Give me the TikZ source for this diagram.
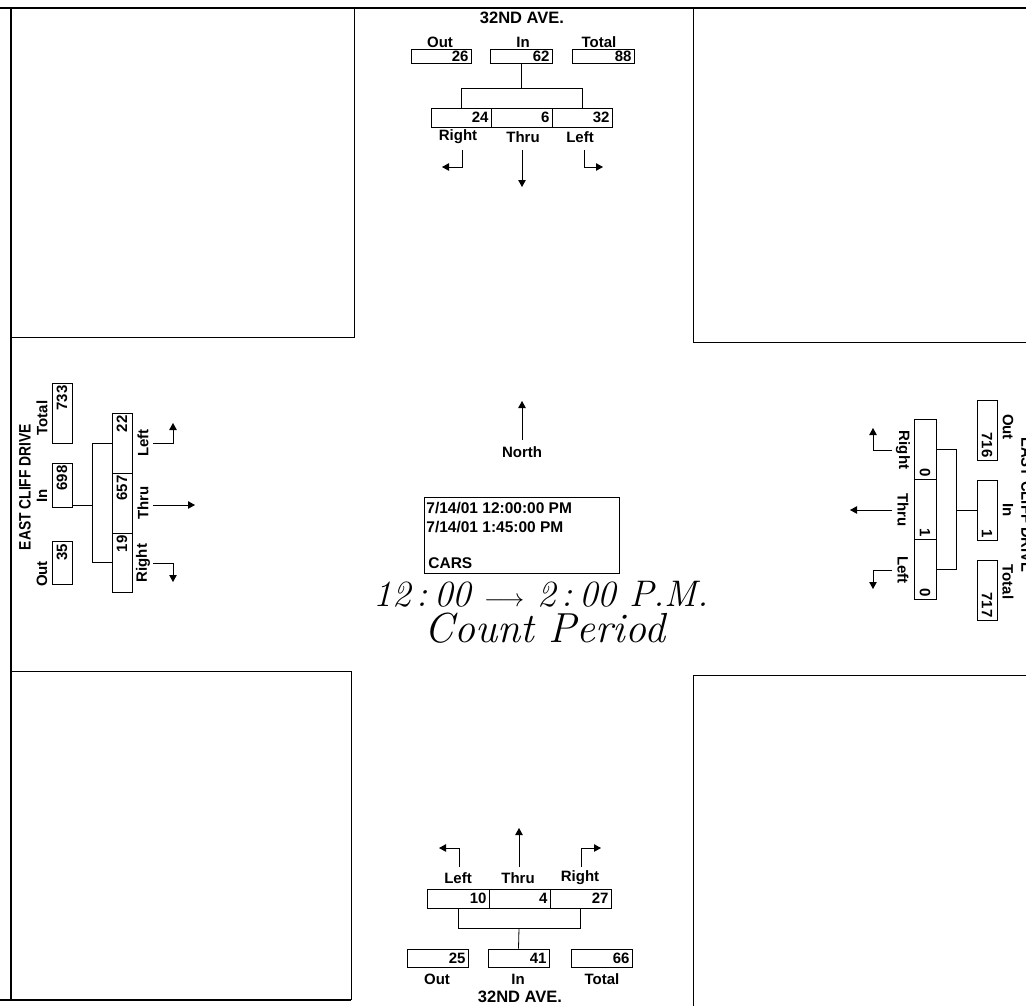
\documentclass[tikz,border=0pt]{standalone}
\usepackage{fontspec}
\setmainfont{Liberation Sans}
\newfontfamily\handfont{Latin Modern Roman}
\usetikzlibrary{arrows.meta}
\begin{document}
\begin{tikzpicture}[x=1pt,y=-1pt,line width=0.8pt,
  txt/.style={font=\bfseries\fontsize{15}{17}\selectfont, inner sep=0pt},
  street/.style={font=\bfseries\fontsize{16.5}{18}\selectfont, inner sep=0pt},
  infotxt/.style={font=\bfseries\fontsize{15.5}{17}\selectfont, inner sep=0pt},
  nb/.style={draw, align=right, inner xsep=2.5pt, inner ysep=0pt, text width=#1, font=\bfseries\fontsize{15}{17}\selectfont},
  arr/.style={-{Triangle[length=7pt,width=7.5pt]}},
  hand/.style={font=\handfont\itshape\fontsize{37}{40}\selectfont, inner sep=0pt},
  frame/.style={line width=1pt}]
\useasboundingbox (0,0) rectangle (1026,1005);
\clip (0,0) rectangle (1026,1005);
% ---------- frame ----------
\draw[line width=1.6pt] (0,8) -- (1026,8);
\draw[line width=2pt] (11,8) -- (11,1001);
\draw[frame] (354,8) -- (354,337) -- (11,337);
\draw[frame] (693,8) -- (693,342) -- (1030,342);
\draw[frame] (11,671) -- (351,671) -- (351,1000);
\draw[line width=1.6pt] (0,1000) -- (351,1000);
\draw[frame] (693,1010) -- (693,675) -- (1030,675);
% ---------- top approach ----------
\node[street] (tname) at (522,18) {32ND AVE.};
\node[txt] (toutl) at (440,42) {Out};
\node[txt] (tinl) at (523,42) {In};
\node[txt] (ttotl) at (599,42) {Total};
\node[nb=55pt, minimum height=14pt] (tout) at (441,56.5) {26};
\node[nb=57pt, minimum height=14pt] (tin) at (521,56.5) {62};
\node[nb=57pt, minimum height=14pt] (ttot) at (603,56.5) {88};
\node[nb=55pt, minimum height=19pt] (tR) at (461,117.5) {24};
\node[nb=56pt, minimum height=19pt] (tT) at (521.5,117.5) {6};
\node[nb=55pt, minimum height=19pt] (tL) at (582,117.5) {32};
\coordinate (tj) at (521,88);
\draw (tin.south) -- (tj);
\draw (tR.north) -- (tR.north |- tj) -- (tL.north |- tj) -- (tL.north);
\node[txt] (tRl) at (458,137) {Right};
\node[txt] (tTl) at (523,137) {Thru};
\node[txt] (tLl) at (580,137) {Left};
\coordinate (tRe) at (442,167);
\coordinate (tTe) at (522,187);
\coordinate (tLe) at (603,167);
\draw[arr] (462,150) |- (tRe);
\draw[arr] (522,150) -- (tTe);
\draw[arr] (584,150) |- (tLe);
% ---------- bottom approach ----------
\coordinate (bLe) at (439,848);
\coordinate (bTe) at (519,828);
\coordinate (bRe) at (601,848);
\draw[arr] (459,867) |- (bLe);
\draw[arr] (519,867) -- (bTe);
\draw[arr] (581,867) |- (bRe);
\node[txt] (bLl) at (458,878) {Left};
\node[txt] (bTl) at (518,878) {Thru};
\node[txt] (bRl) at (580,878) {Right};
\node[nb=57pt, minimum height=19pt] (bL) at (458,898.5) {10};
\node[nb=56pt, minimum height=19pt] (bT) at (519.5,898.5) {4};
\node[nb=56pt, minimum height=19pt] (bR) at (580.5,898.5) {27};
\coordinate (bj) at (519,928);
\draw (bL.south) -- (bL.south |- bj) -- (bR.south |- bj) -- (bR.south);
\node[nb=56pt, minimum height=18pt] (bout) at (437.5,958) {25};
\node[nb=56pt, minimum height=18pt] (bin) at (518.5,958) {41};
\node[nb=56pt, minimum height=18pt] (btot) at (601.5,958) {66};
\draw (bj) -- (bin.north);
\node[txt] (boutl) at (437,979) {Out};
\node[txt] (binl) at (518,979) {In};
\node[txt] (btotl) at (602,979) {Total};
\node[street] (bname) at (520,997) {32ND AVE.};
% ---------- left approach ----------
\node[street, rotate=90] (lname) at (25,487) {\scalebox{0.84}[1]{EAST CLIFF DRIVE}};
\node[txt, rotate=90] (loutl) at (42,574) {Out};
\node[txt, rotate=90] (linl) at (42,496) {In};
\node[txt, rotate=90] (ltotl) at (42,418) {Total};
\node[nb=55pt, minimum height=20pt, rotate=90] (ltot) at (62,413) {733};
\node[nb=39pt, minimum height=20pt, rotate=90] (lin) at (62,485) {698};
\node[nb=38pt, minimum height=20pt, rotate=90] (lout) at (62,563) {35};
\node[nb=55pt, minimum height=20pt, rotate=90] (lL) at (122,443) {22};
\node[nb=55pt, minimum height=20pt, rotate=90] (lT) at (122,503) {657};
\node[nb=54pt, minimum height=20pt, rotate=90] (lR) at (122,562.5) {19};
\coordinate (lj) at (92,505);
\draw (lin.south |- lj) -- (lj);
\draw (lL.north) -- (lL.north -| lj) -- (lR.north -| lj) -- (lR.north);
\node[txt, rotate=90] (lLl) at (143,443) {Left};
\node[txt, rotate=90] (lTl) at (143,503) {Thru};
\node[txt, rotate=90] (lRl) at (143,563) {Right};
\coordinate (lLe) at (173,423);
\coordinate (lTe) at (195,505);
\coordinate (lRe) at (173,582);
\draw[arr] (153,443) -| (lLe);
\draw[arr] (153,505) -- (lTe);
\draw[arr] (153,563) -| (lRe);
% ---------- right approach ----------
\node[nb=55pt, minimum height=22pt, rotate=-90] (rR) at (925,449) {0};
\node[nb=55pt, minimum height=22pt, rotate=-90] (rT) at (925,509) {1};
\node[nb=55pt, minimum height=22pt, rotate=-90] (rL) at (925,569) {0};
\coordinate (rj) at (956,510);
\draw (rR.north) -- (rR.north -| rj) -- (rL.north -| rj) -- (rL.north);
\node[nb=55pt, minimum height=20pt, rotate=-90] (rout) at (987,430) {716};
\node[nb=55pt, minimum height=20pt, rotate=-90] (rin) at (987,510) {1};
\node[nb=55pt, minimum height=20pt, rotate=-90] (rtot) at (987,590) {717};
\draw (rj) -- (rin.south);
\node[txt, rotate=-90] (routl) at (1008,427) {Out};
\node[txt, rotate=-90] (rinl) at (1008,510) {In};
\node[txt, rotate=-90] (rtotl) at (1008,582) {Total};
\node[street, rotate=-90] (rname) at (1027,505) {\scalebox{0.9}[1]{EAST CLIFF DRIVE}};
\node[txt, rotate=-90] (rRl) at (903,450) {Right};
\node[txt, rotate=-90] (rTl) at (903,510) {Thru};
\node[txt, rotate=-90] (rLl) at (903,570) {Left};
\coordinate (rRe) at (873,428);
\coordinate (rTe) at (850,510);
\coordinate (rLe) at (873,589);
\draw[arr] (892,450) -| (rRe);
\draw[arr] (892,510) -- (rTe);
\draw[arr] (892,570) -| (rLe);
% ---------- centre ----------
\node[txt] (north) at (522,452) {North};
\coordinate (ntip) at (522,401);
\draw[arr] ([yshift=6pt]north.north) -- (ntip);
\node[draw, minimum width=195pt, minimum height=76pt, anchor=north west, inner sep=0pt] (info) at (424,497) {};
\node[infotxt, anchor=west] (d1) at (426,508) {7/14/01 12:00:00 PM};
\node[infotxt, anchor=west] (d2) at (426,527) {7/14/01 1:45:00 PM};
\node[infotxt, anchor=west] (d3) at (428,563) {CARS};
\node[hand] (hw1) at (541,594) {12\,:\,00 $\longrightarrow$ 2\,:\,00 P.M.};
\node[hand, font=\handfont\itshape\fontsize{42}{44}\selectfont] (hw2) at (545,628) {Count Period};
\end{tikzpicture}
\end{document}
